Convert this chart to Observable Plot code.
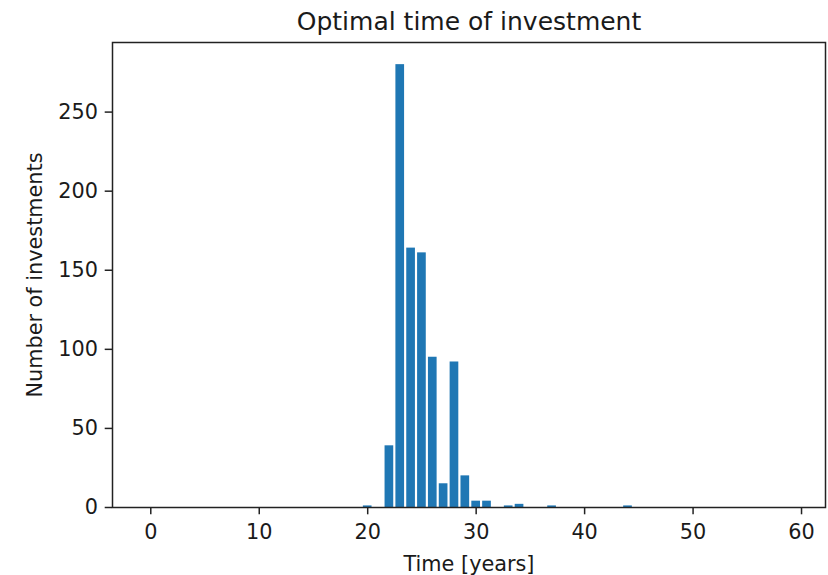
<!DOCTYPE html>
<html>
<head>
<meta charset="utf-8">
<script src="https://cdn.jsdelivr.net/npm/d3@7"></script>
<script src="https://cdn.jsdelivr.net/npm/@observablehq/plot@0.6"></script>
<style>
  html, body { margin: 0; padding: 0; background: #fff; }
</style>
</head>
<body>
<div id="chart"></div>
<script>
// Data
const times  = [20, 22, 23, 24, 25, 26, 27, 28, 29, 30, 31, 33, 34, 37, 44];
const counts = [1, 39, 280, 164, 161, 95, 15, 92, 20, 4, 4, 1, 2, 1, 1];
const xTicks = [0, 10, 20, 30, 40, 50, 60];
const yTicks = [0, 50, 100, 150, 200, 250];
const titleText = "Optimal time of investment";
const xLabel = "Time [years]";
const yLabel = "Number of investments";
const barWidth = 0.8;

const data = times.map((t, i) => ({t, n: counts[i]}));

const W = 828, H = 575;
const mL = 112, mR = 3, mT = 42, mB = 68;
const fs = 20.8;

const chart = Plot.plot({
  width: W,
  height: H,
  marginLeft: mL,
  marginRight: mR,
  marginTop: mT,
  marginBottom: mB,
  style: {fontFamily: "DejaVu Sans", fontSize: fs + "px", background: "#fff", color: "#000"},
  x: {domain: [-3.53, 62.21]},
  y: {domain: [0, 294]},
  marks: [
    Plot.rectY(data, {
      x1: d => d.t - barWidth / 2,
      x2: d => d.t + barWidth / 2,
      y1: 0,
      y2: "n",
      fill: "#1f77b4"
    }),
    Plot.axisX({ticks: xTicks, tickSize: 7.3, tickPadding: 9, tickFormat: d3.format("d"),
      label: null, fontSize: fs, strokeWidth: 1.5, stroke: "#222", fill: "#1a1a1a"}),
    Plot.axisY({ticks: yTicks, tickSize: 7.3, tickPadding: 7.3, tickFormat: d3.format("d"),
      label: null, fontSize: fs, strokeWidth: 1.5, stroke: "#222", fill: "#1a1a1a"}),
    Plot.frame({stroke: "#222", strokeWidth: 1.5}),
    Plot.text([titleText], {text: d => d, frameAnchor: "top", dy: -12.5, lineAnchor: "bottom",
      fontSize: 25, fill: "#1a1a1a"}),
    Plot.text([xLabel], {text: d => d, frameAnchor: "bottom", dy: 63, lineAnchor: "bottom",
      fontSize: fs, fill: "#1a1a1a"}),
    Plot.text([yLabel], {text: d => d, frameAnchor: "left", dx: -70.5, rotate: -90, lineAnchor: "bottom",
      textAnchor: "middle", fontSize: fs, fill: "#1a1a1a"})
  ]
});
document.getElementById("chart").appendChild(chart);
</script>
</body>
</html>
